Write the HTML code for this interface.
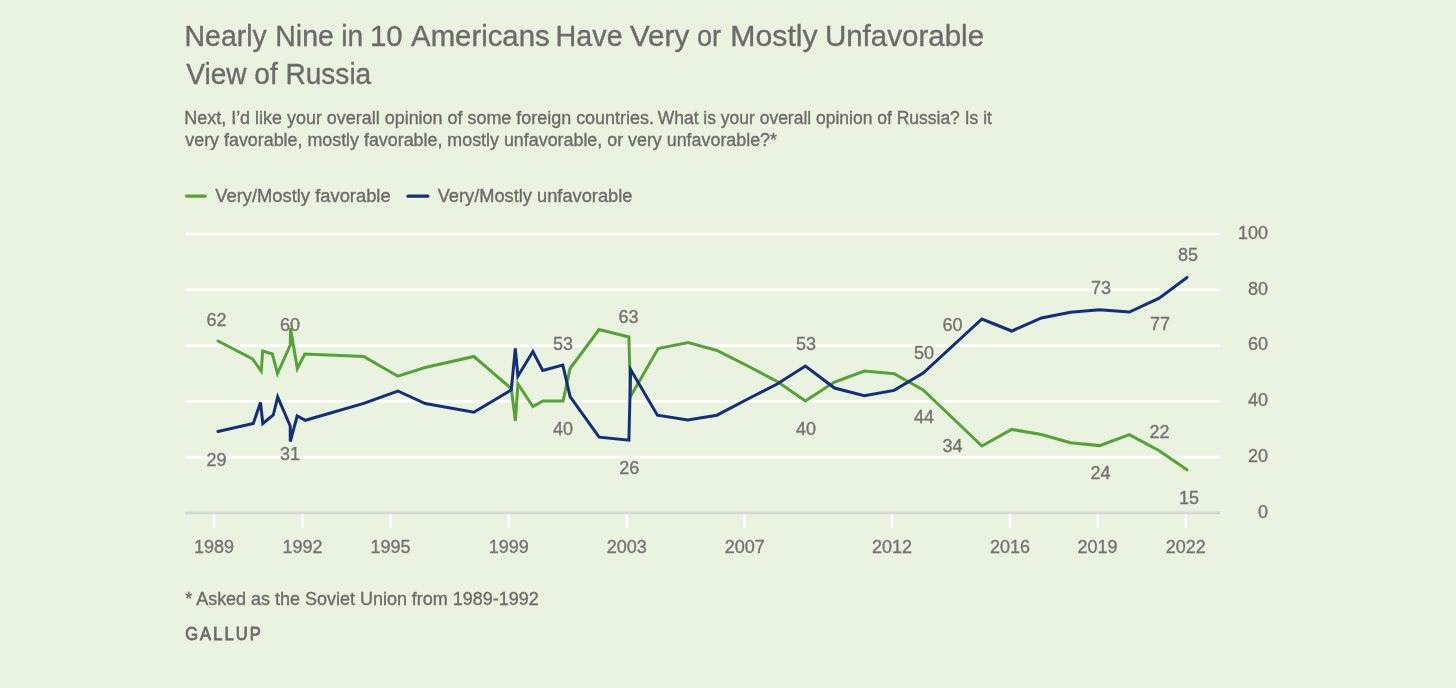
<!DOCTYPE html>
<html><head><meta charset="utf-8"><title>Nearly Nine in 10 Americans Have Very or Mostly Unfavorable View of Russia</title><style>
html,body{margin:0;padding:0;background:#eaf3df;}
body{width:1456px;height:688px;overflow:hidden;position:relative;}
svg{position:absolute;left:0;top:0;display:block;will-change:transform;}
text{font-family:"Liberation Sans",sans-serif;}
</style></head><body>
<svg width="1456" height="688" viewBox="0 0 1456 688">
<rect x="0" y="0" width="1456" height="688" fill="#eaf3df"/>
<g fill="#6b6b6b" stroke="#6b6b6b" stroke-width="0.35">
<text x="184.5" y="45.8" font-size="29.6" textLength="82.26" lengthAdjust="spacingAndGlyphs">Nearly</text>
<text x="275.3" y="45.8" font-size="29.6" textLength="58.57" lengthAdjust="spacingAndGlyphs">Nine</text>
<text x="341.2" y="45.8" font-size="29.6" textLength="21.98" lengthAdjust="spacingAndGlyphs">in</text>
<text x="369.9" y="45.8" font-size="29.6" textLength="32.72" lengthAdjust="spacingAndGlyphs">10</text>
<text x="411.1" y="45.8" font-size="29.6" textLength="138.59" lengthAdjust="spacingAndGlyphs">Americans</text>
<text x="555.6" y="45.8" font-size="29.6" textLength="67.0" lengthAdjust="spacingAndGlyphs">Have</text>
<text x="629.9" y="45.8" font-size="29.6" textLength="59.42" lengthAdjust="spacingAndGlyphs">Very</text>
<text x="697.0" y="45.8" font-size="29.6" textLength="24.11" lengthAdjust="spacingAndGlyphs">or</text>
<text x="730.3" y="45.8" font-size="29.6" textLength="87.35" lengthAdjust="spacingAndGlyphs">Mostly</text>
<text x="824.9" y="45.8" font-size="29.6" textLength="159.17" lengthAdjust="spacingAndGlyphs">Unfavorable</text>
<text x="186.2" y="83.7" font-size="29.6" textLength="185.05" lengthAdjust="spacingAndGlyphs">View of Russia</text>
<text x="184.3" y="123.8" font-size="18" textLength="469.63" lengthAdjust="spacingAndGlyphs">Next, I’d like your overall opinion of some foreign countries.</text>
<text x="657.7" y="123.8" font-size="18" textLength="334.18" lengthAdjust="spacingAndGlyphs">What is your overall opinion of Russia? Is it</text>
<text x="185.3" y="145.9" font-size="18" textLength="591.7" lengthAdjust="spacingAndGlyphs">very favorable, mostly favorable, mostly unfavorable, or very unfavorable?*</text>
<text x="215.2" y="201.8" font-size="18" textLength="175.48" lengthAdjust="spacingAndGlyphs">Very/Mostly favorable</text>
<text x="437.7" y="201.8" font-size="18" textLength="194.7" lengthAdjust="spacingAndGlyphs">Very/Mostly unfavorable</text>
<text x="185.2" y="604.9" font-size="17.8" textLength="353.52" lengthAdjust="spacingAndGlyphs">* Asked as the Soviet Union from 1989-1992</text>
<text x="185.2" y="640" font-size="17.8" textLength="77.61" lengthAdjust="spacingAndGlyphs" stroke-width="0.8" letter-spacing="2.2">GALLUP</text>
</g>
<line x1="186.5" y1="196.1" x2="205.3" y2="196.1" stroke="#55a238" stroke-width="3.2" stroke-linecap="round"/>
<line x1="408" y1="196.2" x2="427.8" y2="196.2" stroke="#142e7a" stroke-width="3.2" stroke-linecap="round"/>
<g stroke="#ffffff" stroke-width="2.6">
<line x1="185" y1="234.0" x2="1220" y2="234.0"/>
<line x1="185" y1="289.8" x2="1220" y2="289.8"/>
<line x1="185" y1="345.6" x2="1220" y2="345.6"/>
<line x1="185" y1="401.2" x2="1220" y2="401.2"/>
<line x1="185" y1="457.1" x2="1220" y2="457.1"/>
</g>
<line x1="185" y1="512.9" x2="1220" y2="512.9" stroke="#d6d7d6" stroke-width="2.6"/>
<g stroke="#ffffff" stroke-width="2.4">
<line x1="214" y1="514.2" x2="214" y2="528"/>
<line x1="302.5" y1="514.2" x2="302.5" y2="528"/>
<line x1="390.5" y1="514.2" x2="390.5" y2="528"/>
<line x1="508.7" y1="514.2" x2="508.7" y2="528"/>
<line x1="626.8" y1="514.2" x2="626.8" y2="528"/>
<line x1="744.7" y1="514.2" x2="744.7" y2="528"/>
<line x1="892" y1="514.2" x2="892" y2="528"/>
<line x1="1010" y1="514.2" x2="1010" y2="528"/>
<line x1="1097.6" y1="514.2" x2="1097.6" y2="528"/>
<line x1="1185.8" y1="514.2" x2="1185.8" y2="528"/>
</g>
<g fill="#737373" stroke="#737373" stroke-width="0.35" font-size="18" text-anchor="middle">
<text x="214" y="552.5">1989</text>
<text x="302.5" y="552.5">1992</text>
<text x="390.5" y="552.5">1995</text>
<text x="508.7" y="552.5">1999</text>
<text x="626.8" y="552.5">2003</text>
<text x="744.7" y="552.5">2007</text>
<text x="892" y="552.5">2012</text>
<text x="1010" y="552.5">2016</text>
<text x="1097.6" y="552.5">2019</text>
<text x="1185.8" y="552.5">2022</text>
</g>
<g fill="#737373" stroke="#737373" stroke-width="0.35" font-size="18" text-anchor="end">
<text x="1268" y="238.8">100</text>
<text x="1268" y="294.6">80</text>
<text x="1268" y="350.40000000000003">60</text>
<text x="1268" y="406.0">40</text>
<text x="1268" y="461.90000000000003">20</text>
<text x="1268" y="517.6999999999999">0</text>
</g>
<path d="M218,341 L252.5,358.9 L261.2,371 L262.7,351 L272.4,354 L277.5,373.5 L290.3,345 L290.5,328 L297.3,368.5 L304.8,354 L363.7,356.5 L397.9,376.2 L425.2,367.5 L473.9,356.5 L511.3,388.6 L515.4,421 L517.9,384 L532.9,406.5 L542.7,401 L563.1,401 L570.1,368.5 L599.1,329.5 L628.9,337 L630.5,396.5 L658.2,348.5 L688.1,342.5 L716.9,350.5 L748.8,366.5 L777.2,381.5 L805.4,401 L834,382.3 L864.3,371 L894.1,373.8 L923.2,390 L981.9,446 L1011.7,429.4 L1041.5,434.5 L1070.5,442.7 L1099.6,445.6 L1129.4,434.7 L1159.2,450.7 L1187,469.8" fill="none" stroke="#55a238" stroke-width="3" stroke-linejoin="miter" stroke-miterlimit="4" stroke-linecap="round"/>
<path d="M218,431.5 L253.3,423.5 L260.5,402.5 L262.8,423.5 L273.3,415 L277.7,397 L290.2,426 L290.3,441.5 L297.2,416 L305.4,420.3 L363.7,403.4 L397.9,391 L425.2,403.5 L473.9,412.2 L511.3,389.9 L515.3,348.5 L517.9,376.2 L532.9,351.5 L542.7,370.5 L562.8,365 L570.1,396.5 L599.1,437.2 L628.9,440.2 L630.6,369.5 L657.4,415.2 L687.8,420 L716.9,415.2 L748.8,398.5 L777.2,384 L805.4,366 L834.5,388 L864.3,395.8 L894.1,390.4 L923.2,373 L981.9,319 L1011.7,331 L1041.5,318 L1070.5,312.3 L1099.6,309.8 L1129.4,312 L1159.2,298.1 L1187,277.5" fill="none" stroke="#142e7a" stroke-width="3" stroke-linejoin="miter" stroke-miterlimit="4" stroke-linecap="round"/>
<g fill="#737373" stroke="#737373" stroke-width="0.35" font-size="18" text-anchor="middle">
<text x="216.5" y="326">62</text>
<text x="216.5" y="466">29</text>
<text x="290" y="330.5">60</text>
<text x="290" y="459.5">31</text>
<text x="563" y="349.5">53</text>
<text x="563" y="435">40</text>
<text x="628.5" y="322.5">63</text>
<text x="629.3" y="474">26</text>
<text x="806" y="349.6">53</text>
<text x="806" y="435">40</text>
<text x="924" y="359.2">50</text>
<text x="924" y="422.9">44</text>
<text x="952.5" y="330.5">60</text>
<text x="952.5" y="451.5">34</text>
<text x="1101" y="293.8">73</text>
<text x="1100.5" y="479">24</text>
<text x="1160" y="330.1">77</text>
<text x="1159.5" y="437.6">22</text>
<text x="1188" y="260.7">85</text>
<text x="1189" y="504.2">15</text>
</g>
</svg>
</body></html>
